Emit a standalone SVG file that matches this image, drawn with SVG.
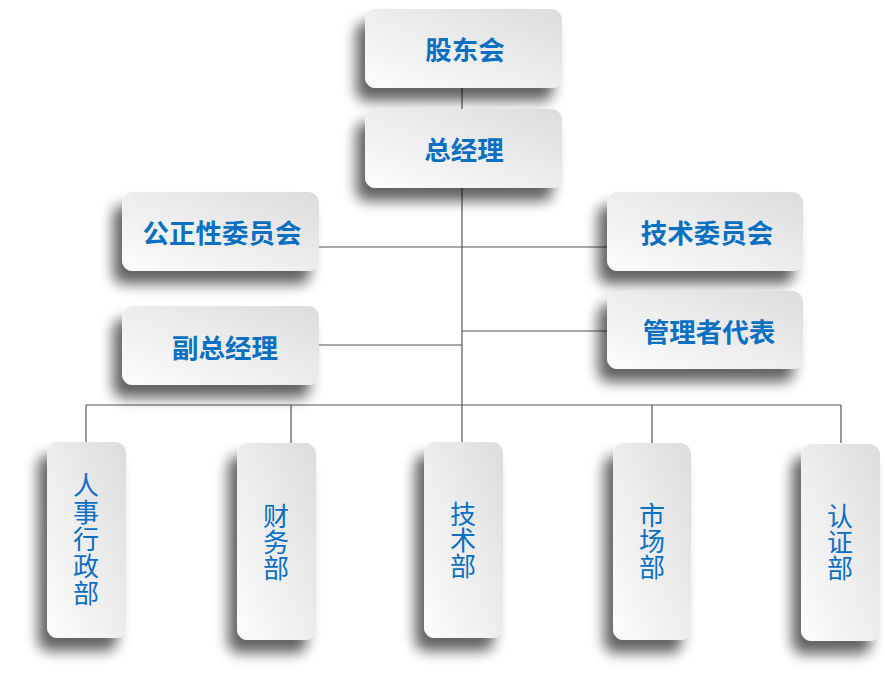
<svg xmlns="http://www.w3.org/2000/svg" width="889" height="688" viewBox="0 0 889 688">
  <defs>
    <linearGradient id="boxGrad" x1="0" y1="1" x2="1" y2="0">
      <stop offset="0" stop-color="#fdfdfd"/>
      <stop offset="1" stop-color="#dcdcdc"/>
    </linearGradient>
    <filter id="shadow" x="-50%" y="-50%" width="200%" height="200%">
      <feGaussianBlur in="SourceAlpha" stdDeviation="7"/>
      <feOffset dx="-9" dy="13" result="b"/>
      <feComponentTransfer>
        <feFuncA type="linear" slope="0.62"/>
      </feComponentTransfer>
      <feMerge>
        <feMergeNode/>
        <feMergeNode in="SourceGraphic"/>
      </feMerge>
    </filter>
  </defs>
  <style>
    .box { fill: url(#boxGrad); filter: url(#shadow); }
    .conn { stroke: #555; stroke-width: 1.2; fill: none; }
    .t { font-family: "Noto Sans CJK SC", "Noto Sans", sans-serif; font-weight: bold; font-size: 26.5px; fill: #0b6fc2; text-anchor: middle; dominant-baseline: central; }
    .v { font-family: "Noto Sans CJK SC", "Noto Sans", sans-serif; font-weight: normal; font-size: 26px; fill: #0b6fc2; text-anchor: middle; writing-mode: vertical-rl; }
  </style>
  <rect width="889" height="688" fill="#ffffff"/>

  <g id="connectors">
    <line class="conn" x1="462" y1="88" x2="462" y2="109"/>
    <line class="conn" x1="462" y1="188" x2="462" y2="405"/>
    <line class="conn" x1="319" y1="247" x2="607" y2="247"/>
    <line class="conn" x1="319" y1="345" x2="462" y2="345"/>
    <line class="conn" x1="462" y1="331" x2="607" y2="331"/>
    <line class="conn" x1="86" y1="405" x2="841" y2="405"/>
    <line class="conn" x1="86" y1="405" x2="86" y2="443"/>
    <line class="conn" x1="291" y1="405" x2="291" y2="443"/>
    <line class="conn" x1="462" y1="405" x2="462" y2="443"/>
    <line class="conn" x1="652" y1="405" x2="652" y2="443"/>
    <line class="conn" x1="841" y1="405" x2="841" y2="443"/>
  </g>

  <g id="gudonghui">
    <rect class="box" x="365" y="9" width="197" height="79" rx="11"/>
    <text class="t" x="465" y="48">股东会</text>
  </g>
  <g id="zongjingli">
    <rect class="box" x="365" y="109" width="197" height="79" rx="11"/>
    <text class="t" x="464" y="148">总经理</text>
  </g>
  <g id="gongzhengxing">
    <rect class="box" x="122" y="192" width="197" height="79" rx="11"/>
    <text class="t" x="222" y="231">公正性委员会</text>
  </g>
  <g id="fuzongjingli">
    <rect class="box" x="122" y="306" width="197" height="79" rx="11"/>
    <text class="t" x="225" y="346">副总经理</text>
  </g>
  <g id="jishuweiyuanhui">
    <rect class="box" x="607" y="192" width="196" height="79" rx="11"/>
    <text class="t" x="707" y="231">技术委员会</text>
  </g>
  <g id="guanlizhe">
    <rect class="box" x="607" y="291" width="196" height="78" rx="11"/>
    <text class="t" x="709" y="330">管理者代表</text>
  </g>

  <g id="renshi">
    <rect class="box" x="47" y="442" width="79" height="196" rx="11"/>
    <text class="v" x="86" y="540" letter-spacing="1">人事行政部</text>
  </g>
  <g id="caiwu">
    <rect class="box" x="237" y="443" width="79" height="197" rx="11"/>
    <text class="v" x="276" y="542">财务部</text>
  </g>
  <g id="jishubu">
    <rect class="box" x="424" y="442" width="79" height="196" rx="11"/>
    <text class="v" x="463" y="540">技术部</text>
  </g>
  <g id="shichang">
    <rect class="box" x="613" y="443" width="78" height="197" rx="11"/>
    <text class="v" x="652" y="541">市场部</text>
  </g>
  <g id="renzheng">
    <rect class="box" x="801" y="444" width="79" height="197" rx="11"/>
    <text class="v" x="840" y="542">认证部</text>
  </g>
</svg>
